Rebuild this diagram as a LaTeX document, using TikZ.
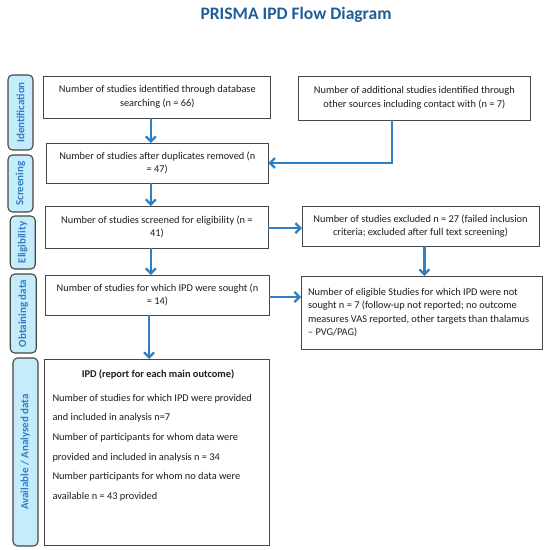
\documentclass[tikz,border=0pt]{standalone}
\usepackage{fontspec}
\setmainfont{Carlito}
\usetikzlibrary{arrows.meta}
\definecolor{titleblue}{RGB}{31,93,153}
\definecolor{arrblue}{RGB}{46,128,196}
\definecolor{labfill}{RGB}{196,236,250}
\definecolor{labblue}{RGB}{52,125,196}
\definecolor{edgegray}{RGB}{70,70,70}
\definecolor{txt}{RGB}{30,30,30}
\begin{document}
\begin{tikzpicture}[x=1bp,y=-1bp,
  box/.style={draw=edgegray, line width=0.9bp, fill=white, inner sep=0pt, outer sep=0pt,
    align=center, text=txt, font=\fontsize{10.4}{13.6}\selectfont, anchor=north west},
  lab/.style={draw=edgegray, line width=1.1bp, fill=labfill, rounded corners=4.5bp,
    rotate=90, text=labblue, font=\bfseries\fontsize{11}{13}\selectfont, inner sep=0pt, outer sep=0pt},
  arr/.style={draw=arrblue, line width=2.3bp, -{Straight Barb[length=5bp,width=10bp]}},
  plain/.style={text=txt, inner sep=0pt, outer sep=0pt},
]
\useasboundingbox[fill=white] (0,0) rectangle (550,550);

\node[font=\bfseries\fontsize{17.6}{20}\selectfont, text=titleblue, anchor=base] (title) at (296,20) {PRISMA IPD Flow Diagram};

% side labels
\node[lab, minimum width=75bp, minimum height=25bp] (lid) at (20.5,112.5) {Identification};
\node[lab, minimum width=57bp, minimum height=25bp] (lsc) at (20.5,183.5) {Screening};
\node[lab, minimum width=53bp, minimum height=25bp] (lel) at (22.75,242.5) {Eligibility};
\node[lab, minimum width=79bp, minimum height=26bp] (lob) at (23.25,313.5) {Obtaining data};
\node[lab, minimum width=188bp, minimum height=25bp] (lav) at (25.5,452) {Available / Analysed data};

% boxes
\node[box, minimum width=227bp, minimum height=42bp] (b1) at (43.8,76)
  {Number of studies identified through database\\searching (n = 66)};
\node[box, minimum width=232.7bp, minimum height=44bp] (b2) at (298,76)
  {Number of additional studies identified through\\other sources including contact with (n = 7)};
\node[box, minimum width=222bp, minimum height=40bp] (b3) at (46.3,143)
  {Number of studies after duplicates removed (n\\= 47)};
\node[box, minimum width=222.7bp, minimum height=42.3bp] (b4) at (45.6,206)
  {Number of studies screened for eligibility (n =\\41)};
\node[box, minimum width=237bp, minimum height=40bp] (b5) at (302,206)
  {Number of studies excluded n = 27 (failed inclusion\\criteria; excluded after full text screening)};
\node[box, minimum width=223.8bp, minimum height=40bp] (b6) at (45.6,275)
  {Number of studies for which IPD were sought (n\\= 14)};
\node[box, minimum width=241bp, minimum height=73bp] (b7) at (301,276) {};
\node[plain, anchor=west, align=left, font=\fontsize{10.4}{13.4}\selectfont] (b7t) at (308,312.5)
  {Number of eligible Studies for which IPD were not\\sought n = 7 (follow-up not reported; no outcome\\measures VAS reported, other targets than thalamus\\– PVG/PAG)};
\node[box, minimum width=225.5bp, minimum height=186bp] (ipd) at (44,359) {};
\node[plain, anchor=base, font=\bfseries\fontsize{10.4}{13.6}\selectfont] (ipdt) at (158,377)
  {IPD (report for each main outcome)};
\node[plain, anchor=north west, align=left, font=\fontsize{10.4}{19.7}\selectfont] (ipdb) at (52.5,394)
  {Number of studies for which IPD were provided\\and included in analysis n=7\\Number of participants for whom data were\\provided and included in analysis n = 34\\Number participants for whom no data were\\available n = 43 provided};

% connectors
\coordinate (p1) at ([xshift=-6.5bp]b1.south);
\draw[arr] (p1) -- (p1 |- b3.north);
\coordinate (p2) at ([xshift=-22.35bp]b2.south);
\draw[arr] (p2) |- (b3.east);
\coordinate (p3) at ([xshift=-6.5bp]b3.south);
\draw[arr] (p3) -- (p3 |- b4.north);
\coordinate (p4) at ([yshift=-1bp]b4.east);
\draw[arr] (p4) -- (p4 -| b5.west);
\coordinate (p5) at ([xshift=-6.2bp]b4.south);
\draw[arr] (p5) -- (p5 |- b6.north);
\coordinate (p6) at ([xshift=3.9bp]b5.south);
\draw[arr] (p6) -- (p6 |- b7.north);
\coordinate (p7) at ([yshift=-2bp]b6.east);
\draw[arr] (p7) -- (p7 -| b7.west);
\coordinate (p8) at ([xshift=-8.5bp]b6.south);
\draw[arr] (p8) -- (p8 |- ipd.north);
\end{tikzpicture}
\end{document}
